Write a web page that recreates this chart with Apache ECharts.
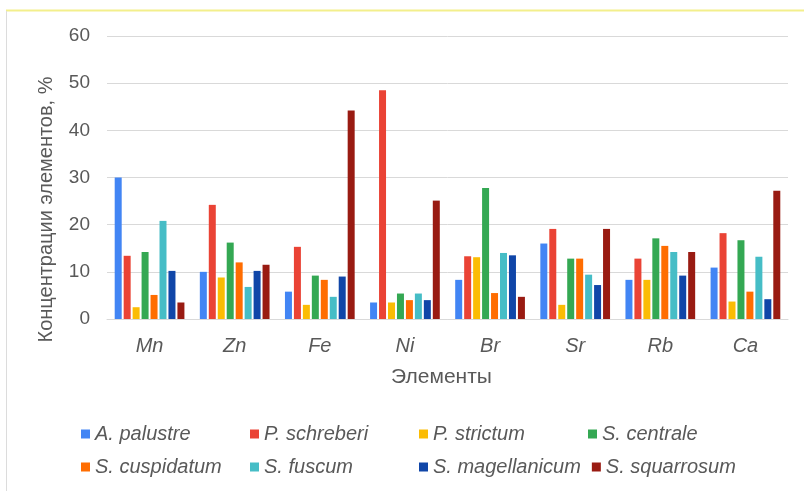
<!DOCTYPE html>
<html>
<head>
<meta charset="utf-8">
<script src="https://cdn.jsdelivr.net/npm/echarts@6/dist/echarts.min.js"></script>
<style>
  html, body { margin: 0; padding: 0; background: #fff; }
  #chart { width: 804px; height: 491px; }
</style>
</head>
<body>
<div id="chart"></div>
<script>
// Element categories along the x axis
const elements = ['Mn', 'Zn', 'Fe', 'Ni', 'Br', 'Sr', 'Rb', 'Ca'];

// Concentrations (%) per moss species, one value per element
const aPalustre      = [30.0, 10.0,  5.8,  3.5,  8.3, 16.0,  8.3, 10.9];
const pSchreberi     = [13.4, 24.2, 15.3, 48.5, 13.3, 19.1, 12.8, 18.2];
const pStrictum      = [ 2.5,  8.8,  3.0,  3.5, 13.1,  3.0,  8.3,  3.7];
const sCentrale      = [14.2, 16.2,  9.2,  5.4, 27.8, 12.8, 17.1, 16.7];
const sCuspidatum    = [ 5.1, 12.0,  8.3,  4.0,  5.5, 12.8, 15.5,  5.8];
const sFuscum        = [20.8,  6.8,  4.7,  5.4, 14.0,  9.4, 14.2, 13.2];
const sMagellanicum  = [10.2, 10.2,  9.0,  4.0, 13.5,  7.2,  9.2,  4.2];
const sSquarrosum    = [ 3.5, 11.5, 44.2, 25.1,  4.7, 19.1, 14.2, 27.2];

const speciesNames = ['A. palustre', 'P. schreberi', 'P. strictum', 'S. centrale',
                      'S. cuspidatum', 'S. fuscum', 'S. magellanicum', 'S. squarrosum'];
const speciesValues = [aPalustre, pSchreberi, pStrictum, sCentrale,
                       sCuspidatum, sFuscum, sMagellanicum, sSquarrosum];
const palette = ['#4285F4', '#EA4335', '#FBBC04', '#34A853',
                 '#FF6D01', '#46BDC6', '#1046A8', '#991B12'];

// Y axis ticks
const yMin = 0, yMax = 60, yStep = 10;

const fontFamily = '"Liberation Sans", Arial, sans-serif';
const textColor = '#595959';

const chart = echarts.init(document.getElementById('chart'), null, { renderer: 'canvas' });

chart.setOption({
  animation: false,
  backgroundColor: '#ffffff',
  color: palette,
  textStyle: { fontFamily: fontFamily },
  graphic: [
    { type: 'line', shape: { x1: 6, y1: 10.5, x2: 804, y2: 10.5 },
      style: { stroke: '#f3ef8c', lineWidth: 2 }, silent: true },
    { type: 'line', shape: { x1: 6.5, y1: 11, x2: 6.5, y2: 491 },
      style: { stroke: '#dcdcdc', lineWidth: 1 }, silent: true }
  ],
  grid: { left: 107, right: 16, top: 36, bottom: 172 },
  legend: {
    data: speciesNames,
    left: 76,
    top: 418,
    width: 700,
    orient: 'horizontal',
    icon: 'rect',
    itemWidth: 9,
    itemHeight: 9,
    itemGap: 11,
    textStyle: {
      color: textColor,
      fontSize: 20,
      fontStyle: 'italic',
      width: 144,
      overflow: 'none',
      lineHeight: 22
    }
  },
  xAxis: {
    type: 'category',
    data: elements,
    name: 'Элементы',
    nameLocation: 'middle',
    nameGap: 48,
    nameTextStyle: { color: textColor, fontSize: 21, padding: [0, 12, 0, 0] },
    axisLine: { show: true, lineStyle: { color: '#d9d9d9', width: 1 } },
    axisTick: { show: false },
    axisLabel: { color: textColor, fontSize: 20, fontStyle: 'italic', margin: 17 }
  },
  yAxis: {
    type: 'value',
    min: yMin,
    max: yMax,
    interval: yStep,
    name: 'Концентрации элементов, %',
    nameLocation: 'middle',
    nameGap: 51,
    // title sits lower than the plot centre, level with the category labels at its base
    nameTextStyle: { color: textColor, fontSize: 20, padding: [0, 64, 0, 0] },
    axisLine: { show: false },
    axisTick: { show: false },
    axisLabel: { color: textColor, fontSize: 19, margin: 17 },
    splitLine: { lineStyle: { color: '#d9d9d9', width: 1 } }
  },
  series: speciesNames.map((name, i) => ({
    name: name,
    type: 'bar',
    data: speciesValues[i],
    barWidth: 7,
    barGap: '28%',
    itemStyle: { color: palette[i] }
  }))
});
</script>
</body>
</html>
